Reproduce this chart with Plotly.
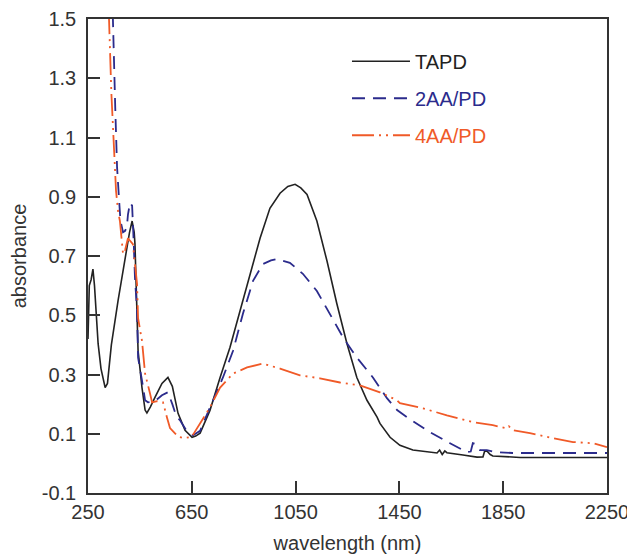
import plotly.graph_objects as go

# ---- data ----
tapd_wl = [250, 255, 262, 269, 275, 289, 300, 316, 325, 340, 366, 390, 410, 420, 428, 431, 437, 443,
           458, 470, 477, 490, 508, 535, 558, 575, 597, 624, 651, 665, 682, 720, 759, 797, 836, 874,
           913, 951, 990, 1020, 1048, 1070, 1094, 1132, 1171, 1209, 1248, 1286, 1325, 1364, 1375,
           1414, 1452, 1502, 1568, 1595, 1605, 1615, 1625, 1633, 1695, 1749, 1772, 1778, 1787, 1800,
           1810, 1887, 1915, 2250]
tapd_abs = [0.42, 0.60, 0.62, 0.656, 0.60, 0.404, 0.32, 0.256, 0.27, 0.40, 0.55, 0.68, 0.78, 0.818,
            0.78, 0.74, 0.55, 0.38, 0.256, 0.18, 0.17, 0.19, 0.223, 0.27, 0.29, 0.26, 0.169, 0.112,
            0.088, 0.092, 0.102, 0.179, 0.29, 0.391, 0.515, 0.64, 0.76, 0.861, 0.912, 0.935, 0.942,
            0.93, 0.908, 0.818, 0.683, 0.539, 0.404, 0.29, 0.213, 0.156, 0.135, 0.088, 0.061, 0.045,
            0.038, 0.035, 0.045, 0.030, 0.042, 0.036, 0.028, 0.021, 0.022, 0.040, 0.042, 0.030,
            0.025, 0.021, 0.020, 0.020]

aa2_wl = [340, 346, 355, 362, 369, 375, 385, 393, 400, 404, 412, 420, 426, 431, 439, 443, 458, 470,
          481, 508, 535, 558, 575, 590, 604, 630, 655, 682, 732, 770, 809, 847, 886, 924, 955, 978,
          1028, 1078, 1132, 1182, 1233, 1286, 1348, 1402, 1441, 1479, 1568, 1645, 1710, 1725, 1733,
          1745, 1760, 1787, 1820, 1887, 2000, 2250]
aa2_abs = [1.8, 1.5, 1.2, 1.0, 0.9, 0.82, 0.78, 0.785, 0.80, 0.84, 0.88, 0.87, 0.75, 0.626, 0.515,
           0.357, 0.28, 0.213, 0.206, 0.21, 0.23, 0.24, 0.20, 0.16, 0.146, 0.11, 0.095, 0.11, 0.213,
           0.29, 0.38, 0.505, 0.616, 0.673, 0.685, 0.69, 0.677, 0.64, 0.582, 0.505, 0.425, 0.357,
           0.29, 0.22, 0.18, 0.156, 0.105, 0.068, 0.038, 0.040, 0.068, 0.065, 0.045, 0.045, 0.038,
           0.035, 0.035, 0.035]

aa4_wl = [325, 331, 340, 350, 358, 366, 373, 385, 393, 404, 423, 439, 443, 458, 470, 489, 497, 516,
          539, 554, 566, 597, 620, 650, 682, 720, 759, 809, 863, 924, 990, 1067, 1144, 1221, 1298,
          1375, 1441, 1452, 1541, 1633, 1733, 1810, 1865, 1872, 1887, 1953, 2042, 2119, 2196, 2250]
aa4_abs = [1.8, 1.5, 1.25, 1.05, 0.92, 0.85, 0.818, 0.707, 0.72, 0.76, 0.74, 0.606, 0.49, 0.414,
           0.303, 0.236, 0.206, 0.21, 0.206, 0.156, 0.119, 0.09, 0.085, 0.09, 0.135, 0.189, 0.256,
           0.303, 0.324, 0.337, 0.32, 0.297, 0.287, 0.273, 0.263, 0.24, 0.213, 0.203, 0.186, 0.162,
           0.139, 0.129, 0.118, 0.125, 0.112, 0.102, 0.085, 0.072, 0.068, 0.055]

series_names = ["TAPD", "2AA/PD", "4AA/PD"]
x_ticks = [250, 650, 1050, 1450, 1850, 2250]
y_ticks = [-0.1, 0.1, 0.3, 0.5, 0.7, 0.9, 1.1, 1.3, 1.5]
y_ticktext = ["-0.1", "0.1", "0.3", "0.5", "0.7", "0.9", "1.1", "1.3", "1.5"]

colors = ["#222222", "#2b2b8c", "#f05a28"]
dashes = ["solid", "13px,8px", "22px,5px,2px,5px,2px,5px"]
widths = [1.6, 1.8, 1.8]

FONT = "Liberation Sans, Arial, sans-serif"

fig = go.Figure()
for i, (wl, ab) in enumerate([(tapd_wl, tapd_abs), (aa2_wl, aa2_abs), (aa4_wl, aa4_abs)]):
    fig.add_trace(go.Scatter(
        x=wl, y=ab, mode="lines",
        name=f"<span style='color:{colors[i]}'>{series_names[i]}</span>",
        legendgroup=f"g{i}",
        line=dict(color=colors[i], width=widths[i], dash=dashes[i]),
    ))

axis_common = dict(
    showgrid=False, zeroline=False, showline=True, linecolor="#333333", linewidth=1.5,
    mirror=True, ticks="inside", ticklen=12, tickwidth=1.5, tickcolor="#333333",
    tickfont=dict(family=FONT, size=20, color="#333333"), ticklabeloverflow="allow",
)

# page body has an 8px default margin, so the figure is sized/offset to compensate
fig.update_layout(
    width=627, height=546,
    margin=dict(l=80, r=28, t=11, b=61, autoexpand=False),
    paper_bgcolor="white", plot_bgcolor="white",
    font=dict(family=FONT, size=20, color="#333333"),
    showlegend=True,
    legend=dict(x=0.499, y=0.952, xanchor="left", yanchor="top", bgcolor="rgba(0,0,0,0)",
                itemwidth=58, tracegroupgap=8, font=dict(family=FONT, size=20)),
    xaxis=dict(range=[250, 2250], tickvals=x_ticks, **axis_common,
               title=dict(text="wavelength (nm)", font=dict(family=FONT, size=20, color="#333333"),
                          standoff=24)),
    yaxis=dict(range=[-0.1, 1.5], tickvals=y_ticks, ticktext=y_ticktext, ticklabelstandoff=6,
               **axis_common,
               title=dict(text="absorbance", font=dict(family=FONT, size=20, color="#333333"),
                          standoff=14)),
)

fig.write_html("out.html")
